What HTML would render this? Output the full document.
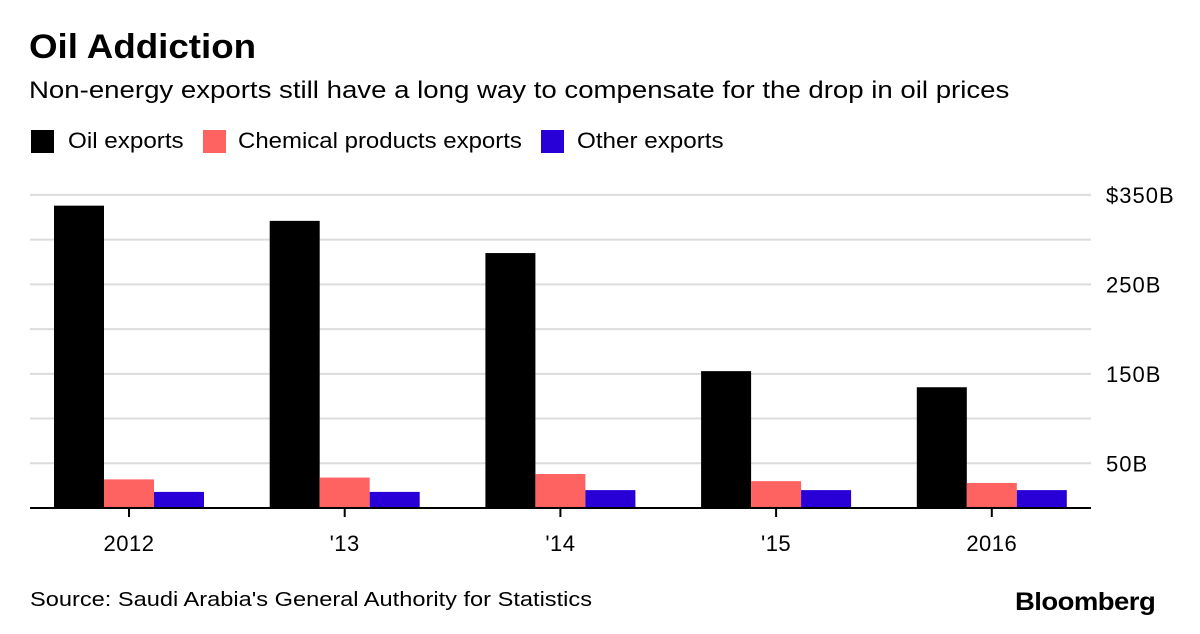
<!DOCTYPE html>
<html><head><meta charset="utf-8"><style>
body{margin:0;background:#fff;font-family:"Liberation Sans",sans-serif;}
#wrap{position:relative;width:1200px;height:634px;overflow:hidden}
.t{position:absolute;white-space:nowrap;color:#000;transform-origin:left center}
</style></head><body><div id="wrap">
<div class="t" style="left:29px;top:28px;font-size:34px;font-weight:bold;transform:scaleX(1.08)">Oil Addiction</div>
<div class="t" style="left:29px;top:77px;font-size:24px;transform:scaleX(1.15)">Non-energy exports still have a long way to compensate for the drop in oil prices</div>
<div>
<div style="position:absolute;left:31px;top:130px;width:23px;height:23px;background:#000"></div>
<div class="t" style="left:68px;top:128px;font-size:22px;transform:scaleX(1.1)">Oil exports</div>
<div style="position:absolute;left:203px;top:130px;width:23px;height:23px;background:#ff6361"></div>
<div class="t" style="left:238px;top:128px;font-size:22px;transform:scaleX(1.09)">Chemical products exports</div>
<div style="position:absolute;left:541px;top:130px;width:23px;height:23px;background:#2800d7"></div>
<div class="t" style="left:577px;top:128px;font-size:22px;transform:scaleX(1.1)">Other exports</div>
</div>
<svg id="plot" width="1200" height="634" style="position:absolute;left:0;top:0"></svg>
<div class="t" style="left:30px;top:589px;font-size:20px;transform:scaleX(1.18)">Source: Saudi Arabia's General Authority for Statistics</div>
<div class="t" style="left:1015px;top:588px;font-size:25px;font-weight:bold;letter-spacing:-0.5px;transform:scaleX(1.1)">Bloomberg</div>
</div>
<script>
const categories=["2012","'13","'14","'15","2016"];
const oil=[338,321,285,153,135];
const chemical=[32,34,38,30,28];
const other=[18,18,20,20,20];
const gridValues=[50,100,150,200,250,300,350];
const tickLabels=["50B","","150B","","250B","","$350B"];
const svg=document.getElementById('plot');
const NS="http://www.w3.org/2000/svg";
const y0=508,pxPer=0.8945;
function y(v){return y0-v*pxPer;}
function x(i){return 54+i*215.7;}
function mk(t,a){const e=document.createElementNS(NS,t);for(const k in a)e.setAttribute(k,a[k]);svg.appendChild(e);return e;}
gridValues.forEach((v,i)=>{
 const l=mk('line',{x1:30,x2:1091,y1:y(v),y2:y(v),stroke:'#dcdcdc','stroke-width':2});
 
 
 if(tickLabels[i]){const t=mk('text',{x:1106,y:y(v)+8,'font-size':22,'letter-spacing':1,'font-family':'Liberation Sans, sans-serif'});t.textContent=tickLabels[i];
 
 }
});
const series=[[oil,'#000','bar-oil'],[chemical,'#ff6361','bar-chemical'],[other,'#2800d7','bar-other']];
categories.forEach((c,i)=>{
 series.forEach((s,j)=>{
  const v=s[0][i];
  const r=mk('rect',{x:x(i)+j*50,y:y(v),width:50,height:v*pxPer,fill:s[1]});
  
  
 });
 const cx=x(i)+75;
 const tk=mk('line',{x1:cx,x2:cx,y1:y0,y2:y0+9,stroke:'#000','stroke-width':2});
 
 
 const t=mk('text',{x:cx,y:551,'text-anchor':'middle','font-size':22,'letter-spacing':0.5,'font-family':'Liberation Sans, sans-serif'});
 t.textContent=c;
 
 
});
const base=mk('line',{x1:30,x2:1091,y1:y0,y2:y0,stroke:'#000','stroke-width':2});


</script></body></html>
